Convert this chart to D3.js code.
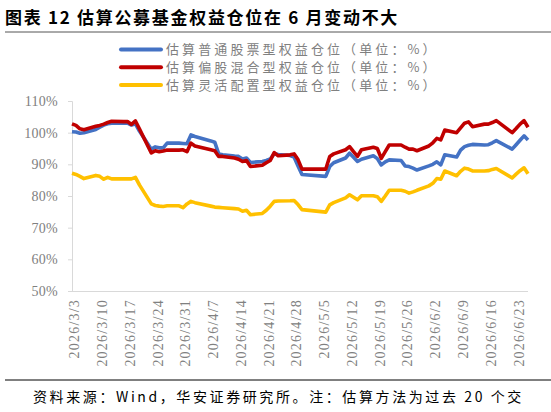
<!DOCTYPE html>
<meta charset="utf-8">
<style>
  body { margin: 0; background: #fff; }
  svg text { font-family: "Noto Sans CJK SC", "Noto Sans", sans-serif; }
  .tick text { font-family: "Liberation Serif", "DejaVu Serif", serif; fill: #808080; }
</style>
<svg width="551" height="412"></svg>
<script src="https://d3js.org/d3.v7.min.js"></script>
<script>
var dates = ["2026-03-03","2026-03-04","2026-03-05","2026-03-06","2026-03-09","2026-03-10","2026-03-11","2026-03-12","2026-03-13",
  "2026-03-16","2026-03-17","2026-03-18","2026-03-19","2026-03-20","2026-03-23","2026-03-24","2026-03-25","2026-03-26","2026-03-27",
  "2026-03-30","2026-03-31","2026-04-01","2026-04-02","2026-04-03","2026-04-07","2026-04-08","2026-04-09","2026-04-10",
  "2026-04-13","2026-04-14","2026-04-15","2026-04-16","2026-04-17","2026-04-20","2026-04-21","2026-04-22","2026-04-23","2026-04-24",
  "2026-04-27","2026-04-28","2026-04-29","2026-04-30","2026-05-06","2026-05-07","2026-05-08",
  "2026-05-11","2026-05-12","2026-05-13","2026-05-14","2026-05-15","2026-05-18","2026-05-19","2026-05-20","2026-05-21","2026-05-22",
  "2026-05-25","2026-05-26","2026-05-27","2026-05-28","2026-05-29","2026-06-01","2026-06-02","2026-06-03","2026-06-04","2026-06-05",
  "2026-06-08","2026-06-09","2026-06-10","2026-06-11","2026-06-12","2026-06-15","2026-06-16","2026-06-17","2026-06-18",
  "2026-06-22","2026-06-23","2026-06-24","2026-06-25","2026-06-26"];

// 普通股票型
var stockFund = [100.3,100.2,99.8,100.0,101.0,101.7,102.4,102.8,103.0,
  103.0,103.0,102.4,102.8,100.5,94.8,95.5,95.2,95.2,96.7,
  96.7,96.6,96.5,99.3,98.8,97.4,97.0,93.3,93.0,
  92.6,92.5,91.7,92.0,90.6,90.9,91.2,91.7,93.4,93.1,
  92.8,92.3,89.5,86.8,86.2,89.3,90.5,
  92.0,93.5,92.2,90.9,91.6,92.7,91.8,89.8,90.8,91.4,
  91.2,89.5,89.3,88.8,88.2,89.5,90.0,90.8,89.8,93.0,
  92.3,94.5,95.6,96.0,96.3,96.1,96.2,96.8,97.5,
  94.8,96.2,97.6,99.0,97.7];

// 偏股混合型
var hybridFund = [102.8,102.3,101.2,100.9,102.0,102.3,102.7,103.2,103.6,
  103.5,103.5,102.6,103.7,101.2,93.6,94.3,94.0,94.2,94.5,
  94.5,94.6,94.0,96.7,95.8,94.6,94.3,92.5,92.5,
  92.0,91.6,90.9,91.2,89.3,89.7,90.5,91.2,93.7,92.7,
  93.0,93.3,91.5,88.5,88.5,92.5,93.3,
  94.6,95.6,94.0,92.5,94.6,95.4,95.0,91.9,94.0,96.1,
  96.1,95.4,94.8,94.8,94.3,95.8,96.8,98.2,97.7,100.8,
  100.0,101.5,103.0,103.4,101.9,102.7,102.7,103.2,103.8,
  100.0,101.3,102.7,103.8,101.7];

// 灵活配置型
var flexFund = [87.2,86.8,86.2,85.5,86.5,86.2,85.3,85.9,85.4,
  85.4,85.4,85.4,85.9,83.5,77.5,77.0,76.8,76.7,76.9,
  76.9,76.3,77.5,78.3,77.9,76.8,76.5,76.4,76.3,
  76.0,75.9,75.2,75.5,74.1,74.5,75.5,76.8,78.3,78.4,
  78.5,78.6,77.3,75.7,74.9,77.2,77.9,
  79.4,80.4,79.6,78.8,80.1,80.1,79.8,78.3,80.0,81.8,
  81.8,81.5,80.9,81.3,81.8,83.2,84.0,85.5,85.3,87.9,
  86.4,87.8,88.8,88.5,87.9,87.9,88.0,88.4,88.7,
  85.7,86.9,88.0,88.9,87.0];

var seriesNames = ["估算普通股票型权益仓位（单位：%）", "估算偏股混合型权益仓位（单位：%）", "估算灵活配置型权益仓位（单位：%）"];
var seriesColors = ["#4472C4", "#C00000", "#FFC000"];
var yTicks = [50, 60, 70, 80, 90, 100, 110];
var xTickDates = ["2026-03-03","2026-03-10","2026-03-17","2026-03-24","2026-03-31","2026-04-07","2026-04-14","2026-04-21",
  "2026-04-28","2026-05-05","2026-05-12","2026-05-19","2026-05-26","2026-06-02","2026-06-09","2026-06-16","2026-06-23"];

var svg = d3.select("svg"),
    margin = {top: 101, right: 23, bottom: 121, left: 72},
    width = +svg.attr("width") - margin.left - margin.right,
    height = +svg.attr("height") - margin.top - margin.bottom;

var parse = d3.timeParse("%Y-%m-%d");
var fmt = d3.timeFormat("%Y/%-m/%-d");
var days = dates.map(parse);

// title
svg.append("text")
    .attr("x", 5).attr("y", 24)
    .style("font-size", "17px").style("font-weight", "bold").style("letter-spacing", "1.7px")
    .attr("fill", "#000")
    .text("图表 12  估算公募基金权益仓位在 6 月变动不大");
svg.append("line")
    .attr("x1", 5).attr("x2", 551).attr("y1", 32).attr("y2", 32)
    .attr("stroke", "#555").attr("stroke-width", 1);

var x = d3.scaleTime()
    .domain([days[0], days[days.length - 1]])
    .range([0, width]);

var y = d3.scaleLinear()
    .domain([50, 110])
    .range([height, 0]);

var g = svg.append("g").attr("transform", "translate(" + margin.left + "," + margin.top + ")");

var yAxis = g.append("g")
    .call(d3.axisLeft(y).tickValues(yTicks).tickSize(4).tickPadding(10).tickFormat(function(d) { return d + "%"; }));
yAxis.selectAll("line, path").attr("stroke", "#d9d9d9");
yAxis.select(".domain").attr("d", "M-4,0.5H0.5V" + (height + 0.5));
yAxis.selectAll("text").style("font-size", "14px").style("letter-spacing", "0.3px");

var xAxis = g.append("g")
    .attr("transform", "translate(0," + height + ")")
    .call(d3.axisBottom(x).tickValues(xTickDates.map(parse)).tickSize(0).tickFormat(fmt));
xAxis.select(".domain").attr("stroke", "#d9d9d9").attr("d", "M0,0.5H" + width);
xAxis.selectAll("text")
    .style("font-size", "14px").style("letter-spacing", "1.2px")
    .attr("text-anchor", "end")
    .attr("y", 0).attr("dy", "0.35em")
    .attr("transform", "translate(2,8) rotate(-90)");

var all = [stockFund, hybridFund, flexFund];
var line = d3.line()
    .x(function(d, i) { return x(days[i]); })
    .y(function(d) { return y(d); });

// red drawn over blue, as in the reference
[2, 0, 1].forEach(function(k) {
  g.append("path")
      .datum(all[k])
      .attr("fill", "none")
      .attr("stroke", seriesColors[k])
      .attr("stroke-width", 3.6)
      .attr("stroke-linejoin", "round")
      .attr("d", line);
});

// legend
var legend = svg.append("g");
seriesNames.forEach(function(name, i) {
  var ly = 49.5 + i * 17.8;
  legend.append("line")
      .attr("x1", 121).attr("x2", 161).attr("y1", ly).attr("y2", ly)
      .attr("stroke", seriesColors[i]).attr("stroke-width", 4).attr("stroke-linecap", "round");
  legend.append("text")
      .attr("x", 166).attr("y", ly).attr("dy", "0.35em")
      .attr("fill", "#808080").style("font-size", "13px").style("letter-spacing", "3.1px")
      .text(name);
});

// source (the reference cuts the note off after "交")
svg.append("line")
    .attr("x1", 5).attr("x2", 551).attr("y1", 380).attr("y2", 380)
    .attr("stroke", "#000").attr("stroke-width", 1);
svg.append("text")
    .attr("x", 33).attr("y", 397).attr("dy", "0.35em")
    .attr("fill", "#000").style("font-size", "14px").style("letter-spacing", "2.6px")
    .text("资料来源：Wind，华安证券研究所。注：估算方法为过去 20 个交");
</script>
